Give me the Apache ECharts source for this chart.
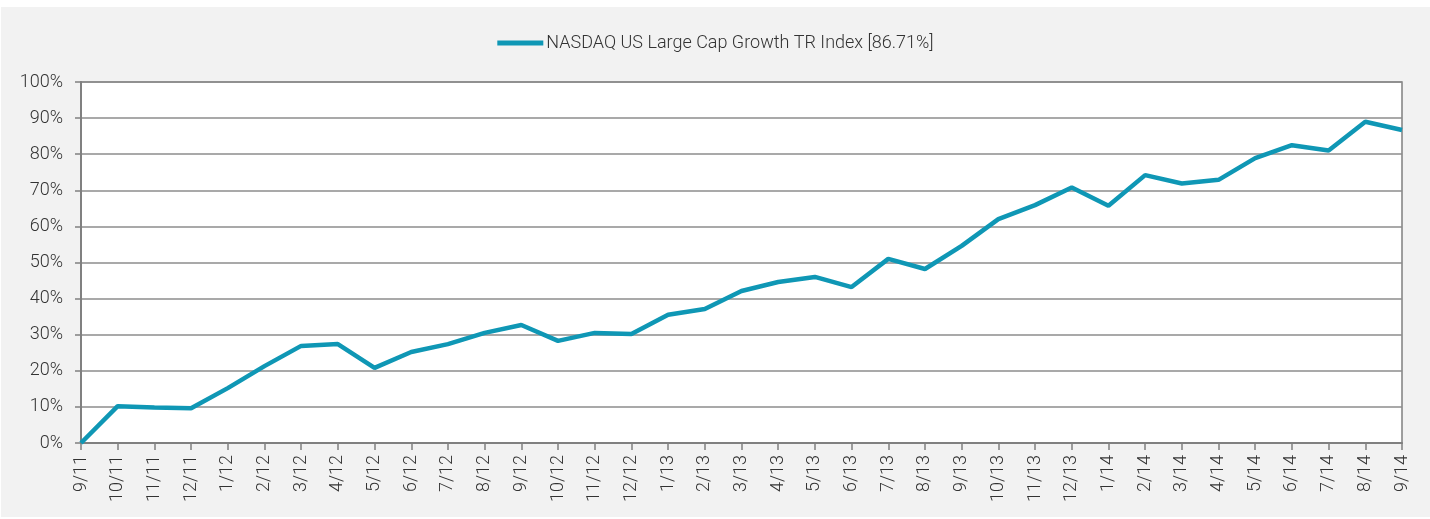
<!DOCTYPE html>
<html>
<head>
<meta charset="utf-8">
<script src="https://cdn.jsdelivr.net/npm/echarts@6/dist/echarts.min.js"></script>
<style>
  html, body { margin: 0; padding: 0; background: #fff; }
  #chart { position: absolute; left: 1px; top: 7px; width: 1429px; height: 510px; background: #f2f2f2; }
</style>
</head>
<body>
<div id="chart"></div>
<script>
// months, end of month
const months = ['9/11','10/11','11/11','12/11','1/12','2/12','3/12','4/12','5/12','6/12','7/12','8/12','9/12',
  '10/12','11/12','12/12','1/13','2/13','3/13','4/13','5/13','6/13','7/13','8/13','9/13',
  '10/13','11/13','12/13','1/14','2/14','3/14','4/14','5/14','6/14','7/14','8/14','9/14'];

// cumulative total return, %
const nasdaqGrowth = [0, 10.2, 9.8, 9.6, 15.2, 21.3, 26.9, 27.4, 20.8, 25.2, 27.4, 30.5, 32.7,
  28.3, 30.5, 30.2, 35.5, 37.1, 42.1, 44.6, 46.0, 43.2, 51.0, 48.2, 54.6,
  62.0, 65.9, 70.8, 65.7, 74.2, 71.9, 72.9, 78.9, 82.5, 81.0, 89.0, 86.71];

const seriesName = 'NASDAQ US Large Cap Growth TR Index [86.71%]';

const chart = echarts.init(document.getElementById('chart'));
const axisGray = '#808080';
const textColor = '#333';
const font = 'Roboto';

chart.setOption({
  backgroundColor: '#f2f2f2',
  textStyle: { fontFamily: font },
  legend: {
    top: 22,
    left: 'center',
    icon: 'rect',
    itemWidth: 46,
    itemHeight: 5,
    itemGap: 4,
    textStyle: { fontSize: 18, color: textColor, fontFamily: font, fontWeight: 300, padding: [0, 0, 0, -2] },
    data: [seriesName]
  },
  grid: {
    left: 80, right: 28, top: 75, bottom: 74,
    show: true,
    backgroundColor: '#fff',
    borderColor: axisGray,
    borderWidth: 1.5
  },
  xAxis: {
    type: 'category',
    data: months,
    boundaryGap: false,
    axisLine: { lineStyle: { color: axisGray, width: 2 } },
    axisTick: { show: true, interval: 0, length: 7, lineStyle: { color: axisGray, width: 1.5 } },
    axisLabel: { interval: 0, rotate: 90, margin: 12, fontSize: 18, color: textColor, fontFamily: font, fontWeight: 300 },
    splitLine: { show: false }
  },
  yAxis: {
    type: 'value',
    min: 0, max: 100, interval: 10,
    axisLine: { show: true, lineStyle: { color: axisGray, width: 2 } },
    axisTick: { show: true, length: 6, lineStyle: { color: axisGray, width: 1.5 } },
    axisLabel: { formatter: '{value}%', fontSize: 18, color: textColor, margin: 18, fontFamily: font, fontWeight: 300 },
    splitLine: { lineStyle: { color: '#8c8c8c', width: 1.5 } }
  },
  series: [{
    name: seriesName,
    type: 'line',
    data: nasdaqGrowth,
    symbol: 'none',
    lineStyle: { color: '#0f97b5', width: 4.5 },
    itemStyle: { color: '#0f97b5' },
    animation: false
  }]
});
</script>
</body>
</html>
